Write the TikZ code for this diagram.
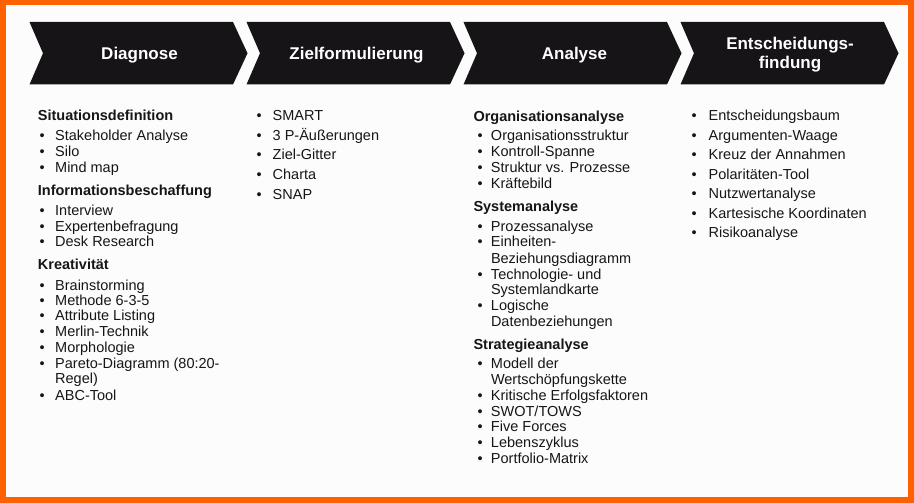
\documentclass[tikz,border=0pt]{standalone}
\usepackage{fontspec}
\setmainfont{Liberation Sans}
\definecolor{orng}{RGB}{255,96,0}
\definecolor{chev}{RGB}{23,20,23}
\definecolor{txt}{RGB}{22,22,22}
\definecolor{bgc}{RGB}{252,252,252}
\newcommand\mychev[1]{\fill[chev] (#1,22) -- ++(203.5,0) -- ++(14.5,31.25) -- ++(-14.5,31.25) -- ++(-203.5,0) -- ++(13.5,-31.25) -- cycle;}
\newcommand\bl[1]{\makebox[#1][l]{•}}
\begin{document}
\begin{tikzpicture}[x=1pt,y=-1pt,
  head/.style={anchor=base west,inner sep=0,font=\fontsize{14.5}{16}\selectfont\bfseries,text=txt},
  itm/.style={anchor=base west,inner sep=0,font=\fontsize{14.5}{16}\selectfont,text=txt},
  ttl/.style={inner sep=0,font=\fontsize{17}{18.3}\selectfont\bfseries,text=white,align=center}]
\fill[orng] (0,0) rectangle (914,503);
\fill[bgc] (6,5) rectangle (908,497);
\useasboundingbox (0,0) rectangle (914,503);
% chevrons
\mychev{29.5}
\mychev{246.5}
\mychev{463.5}
\mychev{680.5}
\node[ttl,anchor=base] (t1) at (139.5,59.3) {Diagnose};
\node[ttl,anchor=base] (t2) at (356.5,59.3) {Zielformulierung};
\node[ttl,anchor=base] (t3) at (574.5,59.3) {Analyse};
\node[ttl] (t4) at (790,54.5) {Entscheidungs-\\findung};
% column 1
\node[head] (a1) at (37.7,120.7) {Situationsdefinition};
\node[itm] (a2) at (39.3,140.7) {\bl{15.7pt}Stakeholder Analyse};
\node[itm] (a3) at (39.3,156.7) {\bl{15.7pt}Silo};
\node[itm] (a4) at (39.3,172.7) {\bl{15.7pt}Mind map};
\node[head] (a5) at (37.7,195) {Informationsbeschaffung};
\node[itm] (a6) at (39.3,215) {\bl{15.7pt}Interview};
\node[itm] (a7) at (39.3,231) {\bl{15.7pt}Expertenbefragung};
\node[itm] (a8) at (39.3,246.7) {\bl{15.7pt}Desk Research};
\node[head] (a9) at (37.7,269.3) {Kreativität};
\node[itm] (a10) at (39.3,290) {\bl{15.7pt}Brainstorming};
\node[itm] (a11) at (39.3,305.7) {\bl{15.7pt}Methode 6-3-5};
\node[itm] (a12) at (39.3,320.7) {\bl{15.7pt}Attribute Listing};
\node[itm] (a13) at (39.3,336.7) {\bl{15.7pt}Merlin-Technik};
\node[itm] (a14) at (39.3,352.7) {\bl{15.7pt}Morphologie};
\node[itm] (a15) at (39.3,368.3) {\bl{15.7pt}Pareto-Diagramm (80:20-};
\node[itm] (a16) at (55,383.3) {Regel)};
\node[itm] (a17) at (39.3,400) {\bl{15.7pt}ABC-Tool};
% column 2
\node[itm] (b1) at (256.5,120.7) {\bl{16pt}SMART};
\node[itm] (b2) at (256.5,140.3) {\bl{16pt}3 P-Äußerungen};
\node[itm] (b3) at (256.5,160) {\bl{16pt}Ziel-Gitter};
\node[itm] (b4) at (256.5,179.6) {\bl{16pt}Charta};
\node[itm] (b5) at (256.5,199.3) {\bl{16pt}SNAP};
% column 3
\node[head] (c1) at (473.3,121.7) {Organisationsanalyse};
\node[itm] (c2) at (477.3,140.7) {\bl{13.5pt}Organisationsstruktur};
\node[itm] (c3) at (477.3,156.7) {\bl{13.5pt}Kontroll-Spanne};
\node[itm] (c4) at (477.3,172.7) {\bl{13.5pt}Struktur vs. Prozesse};
\node[itm] (c5) at (477.3,188.3) {\bl{13.5pt}Kräftebild};
\node[head] (c6) at (473.3,211.7) {Systemanalyse};
\node[itm] (c7) at (477.3,231) {\bl{13.5pt}Prozessanalyse};
\node[itm] (c8) at (477.3,246.7) {\bl{13.5pt}Einheiten-};
\node[itm] (c9) at (490.8,263) {Beziehungsdiagramm};
\node[itm] (c10) at (477.3,279) {\bl{13.5pt}Technologie- und};
\node[itm] (c11) at (490.8,294.3) {Systemlandkarte};
\node[itm] (c12) at (477.3,310) {\bl{13.5pt}Logische};
\node[itm] (c13) at (490.8,326.7) {Datenbeziehungen};
\node[head] (c14) at (473.3,349.3) {Strategieanalyse};
\node[itm] (c15) at (477.3,368.3) {\bl{13.5pt}Modell der};
\node[itm] (c16) at (490.8,384.3) {Wertschöpfungskette};
\node[itm] (c17) at (477.3,400) {\bl{13.5pt}Kritische Erfolgsfaktoren};
\node[itm] (c18) at (477.3,416) {\bl{13.5pt}SWOT/TOWS};
\node[itm] (c19) at (477.3,431.7) {\bl{13.5pt}Five Forces};
\node[itm] (c20) at (477.3,447.7) {\bl{13.5pt}Lebenszyklus};
\node[itm] (c21) at (477.3,463.3) {\bl{13.5pt}Portfolio-Matrix};
% column 4
\node[itm] (d1) at (691.5,121) {\bl{17pt}Entscheidungsbaum};
\node[itm] (d2) at (691.5,140.4) {\bl{17pt}Argumenten-Waage};
\node[itm] (d3) at (691.5,159.8) {\bl{17pt}Kreuz der Annahmen};
\node[itm] (d4) at (691.5,179.2) {\bl{17pt}Polaritäten-Tool};
\node[itm] (d5) at (691.5,198.6) {\bl{17pt}Nutzwertanalyse};
\node[itm] (d6) at (691.5,218) {\bl{17pt}Kartesische Koordinaten};
\node[itm] (d7) at (691.5,237.4) {\bl{17pt}Risikoanalyse};
\end{tikzpicture}
\end{document}
